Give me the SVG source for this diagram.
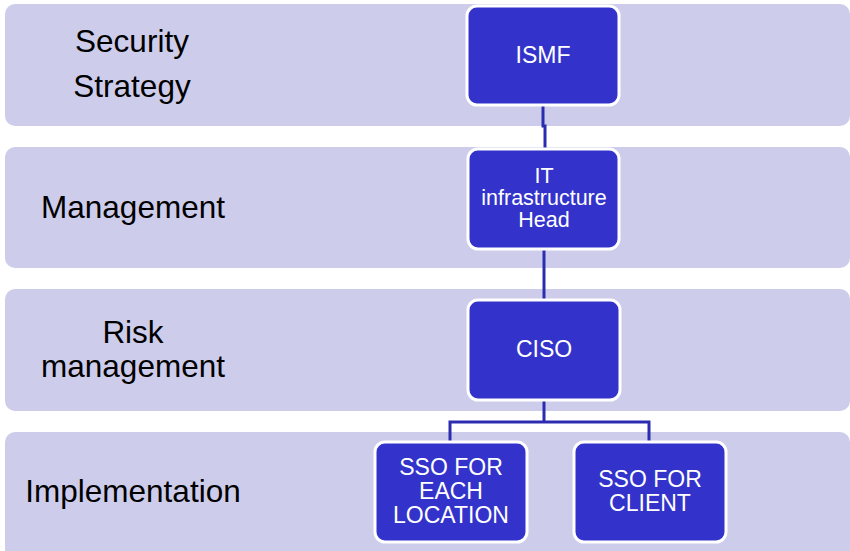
<svg xmlns="http://www.w3.org/2000/svg" width="850" height="551" viewBox="0 0 850 551">
<style>
.band{fill:#cdcdeb;}
.lbl{font-family:"Liberation Sans",Arial,sans-serif;font-size:31.5px;fill:#000;text-anchor:middle;}
.node{fill:#3333cc;stroke:#ffffff;stroke-width:3;}
.nt{font-family:"Liberation Sans",Arial,sans-serif;font-size:23px;fill:#ffffff;text-anchor:middle;}
.nt2{font-family:"Liberation Sans",Arial,sans-serif;font-size:21.5px;fill:#ffffff;text-anchor:middle;}
.conn{fill:none;stroke:#2c2cb0;stroke-width:3;}
</style>
<rect width="850" height="551" fill="#ffffff"/>
<g id="bands">
<rect class="band" x="5" y="4" width="845" height="122" rx="10"/>
<rect class="band" x="5" y="147" width="845" height="121" rx="10"/>
<rect class="band" x="5" y="289" width="845" height="122" rx="10"/>
<rect class="band" x="5" y="432" width="845" height="130" rx="10"/>
<text class="lbl" x="132" y="52">Security</text>
<text class="lbl" x="132" y="97">Strategy</text>
<text class="lbl" x="133" y="218">Management</text>
<text class="lbl" x="133" y="343">Risk</text>
<text class="lbl" x="133" y="377">management</text>
<text class="lbl" x="133" y="502">Implementation</text>
</g>
<g id="connectors">
<path class="conn" d="M543,106 V126 H545 V149"/>
<path class="conn" d="M544,250 V300"/>
<path class="conn" d="M544,401 V422 M450,442 V422 H649 V442"/>
</g>
<g id="ismf">
<rect class="node" x="467" y="6" width="152" height="99" rx="10"/>
<text class="nt" x="543" y="63">ISMF</text>
</g>
<g id="it-head">
<rect class="node" x="468" y="149" width="151" height="100" rx="10"/>
<text class="nt2" x="544" y="183">IT</text>
<text class="nt2" x="544" y="205">infrastructure</text>
<text class="nt2" x="544" y="227">Head</text>
</g>
<g id="ciso">
<rect class="node" x="468" y="300" width="152" height="100" rx="10"/>
<text class="nt" x="544" y="357">CISO</text>
</g>
<g id="sso-location">
<rect class="node" x="375" y="442" width="152" height="100" rx="10"/>
<text class="nt" x="451" y="475">SSO FOR</text>
<text class="nt" x="451" y="499">EACH</text>
<text class="nt" x="451" y="523">LOCATION</text>
</g>
<g id="sso-client">
<rect class="node" x="574" y="442" width="152" height="100" rx="10"/>
<text class="nt" x="650" y="487">SSO FOR</text>
<text class="nt" x="650" y="511">CLIENT</text>
</g>
</svg>
